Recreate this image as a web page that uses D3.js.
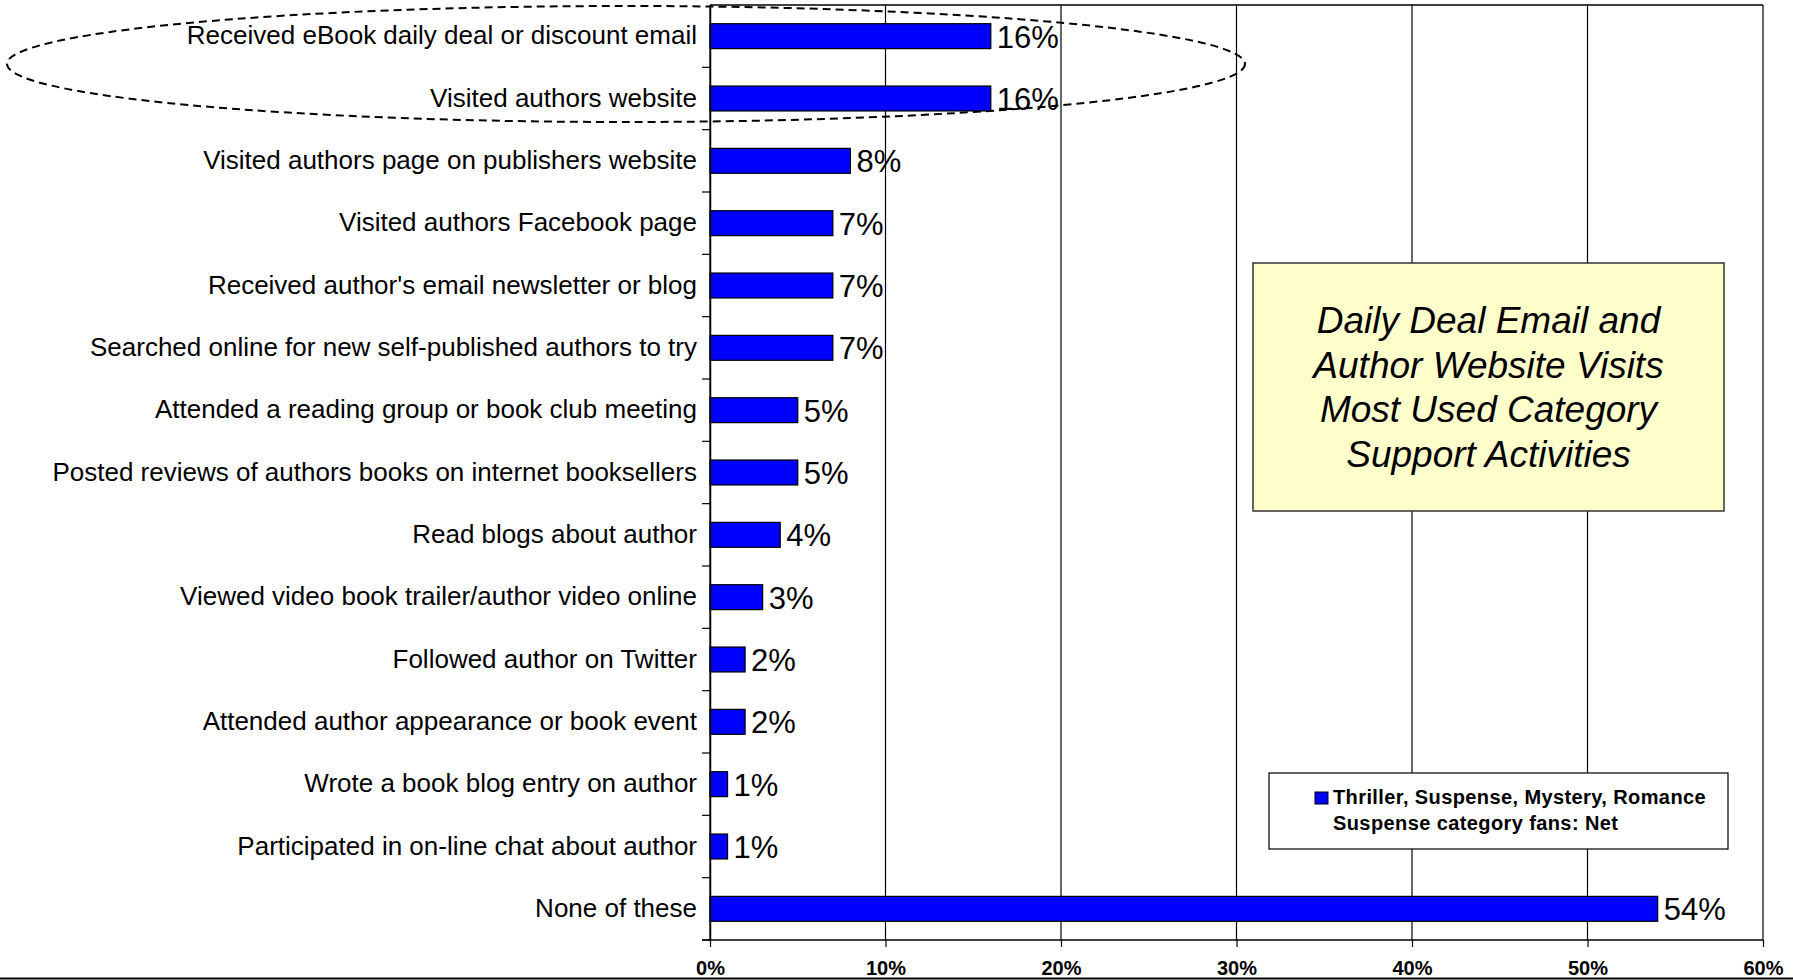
<!DOCTYPE html>
<html>
<head>
<meta charset="utf-8">
<script src="https://cdn.jsdelivr.net/npm/d3@7"></script>
<style>
  html, body { margin: 0; padding: 0; background: #fff; }
  svg { display: block; font-family: Arial, "Liberation Sans", sans-serif; }
</style>
</head>
<body>
<svg id="chart" width="1793" height="980"></svg>
<script>
// Support activities used by category fans (share of respondents)
const activities = [
  "Received eBook daily deal or discount email",
  "Visited authors website",
  "Visited authors page on publishers website",
  "Visited authors Facebook page",
  "Received author's email newsletter or blog",
  "Searched online for new self-published authors to try",
  "Attended a reading group or book club meeting",
  "Posted reviews of authors books on internet booksellers",
  "Read blogs about author",
  "Viewed video book trailer/author video online",
  "Followed author on Twitter",
  "Attended author appearance or book event",
  "Wrote a book blog entry on author",
  "Participated in on-line chat about author",
  "None of these"
];
const netShare = [16, 16, 8, 7, 7, 7, 5, 5, 4, 3, 2, 2, 1, 1, 54];
const xTicks = [0, 10, 20, 30, 40, 50, 60];
const seriesName = ["Thriller, Suspense, Mystery, Romance", "Suspense category fans: Net"];
const calloutLines = ["Daily Deal Email and", "Author Website Visits", "Most Used Category", "Support Activities"];

const svg = d3.select("#chart");
const plot = { left: 710, right: 1763, top: 5, bottom: 940 };

const x = d3.scaleLinear().domain([0, 60]).range([plot.left, plot.right]);
const y = d3.scaleBand().domain(activities).range([plot.top, plot.bottom])
  .paddingInner(0.6).paddingOuter(0.3);

// vertical gridlines
svg.append("g").selectAll("line").data(xTicks).join("line")
  .attr("x1", d => x(d)).attr("x2", d => x(d))
  .attr("y1", plot.top).attr("y2", plot.bottom)
  .attr("stroke", "#000").attr("stroke-width", 1.2);

// top border
svg.append("line")
  .attr("x1", plot.left).attr("x2", plot.right)
  .attr("y1", plot.top).attr("y2", plot.top)
  .attr("stroke", "#000").attr("stroke-width", 1.5);

// bars
svg.append("g").selectAll("rect").data(activities).join("rect")
  .attr("x", x(0))
  .attr("y", d => y(d))
  .attr("width", (d, i) => x(netShare[i]) - x(0))
  .attr("height", y.bandwidth())
  .attr("fill", "#0000FF")
  .attr("stroke", "#000").attr("stroke-width", 1.2);

// value labels
svg.append("g").selectAll("text").data(activities).join("text")
  .attr("x", (d, i) => x(netShare[i]) + 6)
  .attr("y", d => y(d) + y.bandwidth() / 2 + 11.5)
  .attr("font-size", 31)
  .attr("fill", "#000")
  .text((d, i) => netShare[i] + "%");

// category axis
const yAxis = d3.axisLeft(y).tickSize(0).tickPadding(13);
const gy = svg.append("g").attr("transform", `translate(${plot.left},0)`).call(yAxis);
gy.select(".domain").attr("stroke", "#000").attr("stroke-width", 1.5);
gy.selectAll("text").attr("font-size", 26).attr("font-family", "Arial, 'Liberation Sans', sans-serif")
  .attr("fill", "#000");

// tick marks between categories
const step = y.step();
const boundaries = d3.range(activities.length + 1).map(i => plot.top + i * step);
svg.append("g").selectAll("line").data(boundaries.slice(1)).join("line")
  .attr("x1", plot.left - 8).attr("x2", plot.left)
  .attr("y1", d => d).attr("y2", d => d)
  .attr("stroke", "#000").attr("stroke-width", 1.2);

// value axis
const xAxis = d3.axisBottom(x).tickValues(xTicks).tickFormat(d => d + "%").tickSize(7).tickPadding(14);
const gx = svg.append("g").attr("transform", `translate(0,${plot.bottom})`).call(xAxis);
gx.select(".domain").remove();
gx.selectAll("line").attr("stroke", "#000").attr("stroke-width", 1.2);
gx.selectAll("text").attr("font-size", 20).attr("font-weight", "bold")
  .attr("font-family", "Arial, 'Liberation Sans', sans-serif").attr("fill", "#000");
svg.append("line")
  .attr("x1", plot.left - 8).attr("x2", plot.right)
  .attr("y1", plot.bottom).attr("y2", plot.bottom)
  .attr("stroke", "#000").attr("stroke-width", 1.5);

// frame edge along the bottom
svg.append("line")
  .attr("x1", 0).attr("x2", 1793)
  .attr("y1", 978.5).attr("y2", 978.5)
  .attr("stroke", "#000").attr("stroke-width", 2);

// dashed ellipse around the two leading activities
svg.append("ellipse")
  .attr("cx", 626).attr("cy", 64).attr("rx", 619).attr("ry", 58)
  .attr("fill", "none").attr("stroke", "#000")
  .attr("stroke-width", 2).attr("stroke-dasharray", "8,5");

// callout box
const box = svg.append("g");
box.append("rect")
  .attr("x", 1253).attr("y", 263).attr("width", 471).attr("height", 248)
  .attr("fill", "#FFFFCC").attr("stroke", "#333").attr("stroke-width", 1.5);
box.selectAll("text").data(calloutLines).join("text")
  .attr("x", 1488.5)
  .attr("y", (d, i) => 333 + i * 44.7)
  .attr("text-anchor", "middle")
  .attr("font-size", 37).attr("font-style", "italic").attr("fill", "#000")
  .text(d => d);

// legend
const legend = svg.append("g");
legend.append("rect")
  .attr("x", 1269).attr("y", 773).attr("width", 459).attr("height", 76)
  .attr("fill", "#fff").attr("stroke", "#000").attr("stroke-width", 1.2);
legend.append("rect")
  .attr("x", 1315).attr("y", 792).attr("width", 13).attr("height", 12)
  .attr("fill", "#0000FF").attr("stroke", "#000").attr("stroke-width", 1);
legend.selectAll("text.lg").data(seriesName).join("text")
  .attr("class", "lg")
  .attr("x", 1333)
  .attr("y", (d, i) => 804 + i * 25.5)
  .attr("font-size", 20).attr("font-weight", "bold").attr("letter-spacing", 0.4)
  .attr("fill", "#000")
  .text(d => d);
</script>
</body>
</html>
